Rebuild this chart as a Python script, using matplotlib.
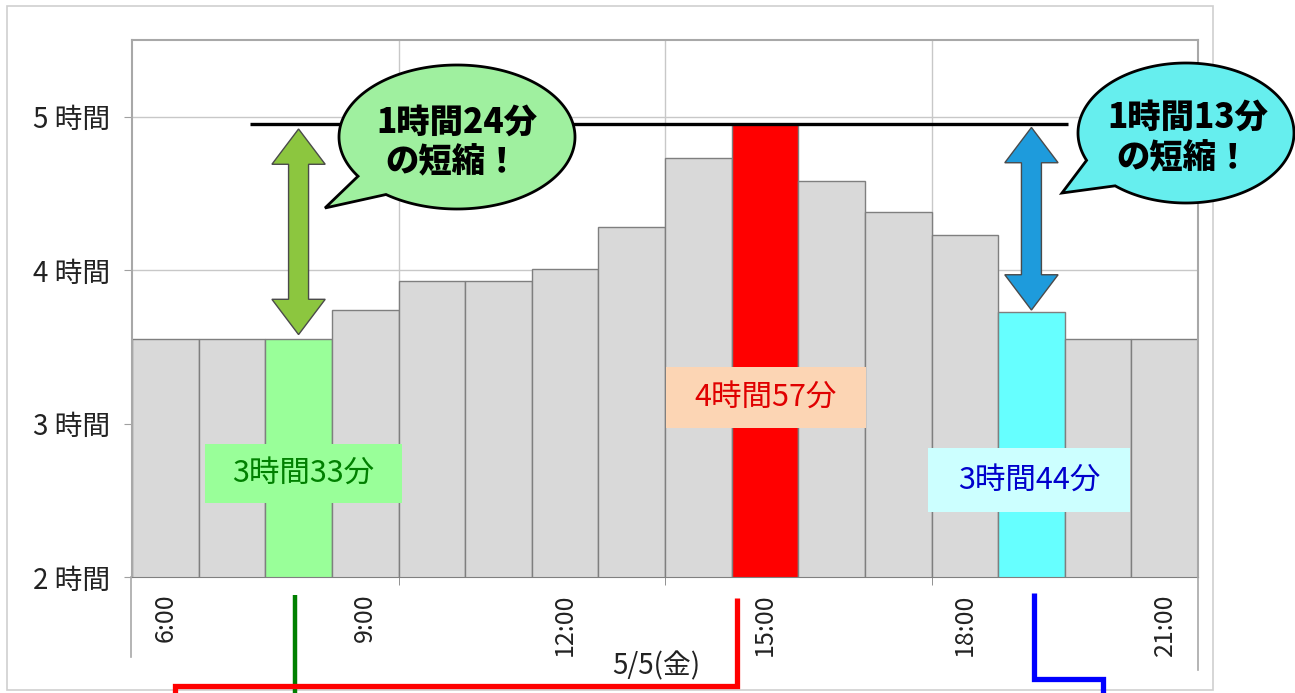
import matplotlib
matplotlib.use('Agg')
import matplotlib.pyplot as plt
import numpy as np
from matplotlib.patches import Polygon, Rectangle

plt.rcParams['font.family'] = ['Noto Sans CJK JP', 'DejaVu Sans']

# --- data ---
hours = ['6:00', '7:00', '8:00', '9:00', '10:00', '11:00', '12:00', '13:00',
         '14:00', '15:00', '16:00', '17:00', '18:00', '19:00', '20:00', '21:00']
values = [3.55, 3.55, 3.55, 3.74, 3.93, 3.93, 4.01, 4.28,
          4.73, 4.95, 4.58, 4.38, 4.23, 3.73, 3.55, 3.55]
shown_ticks = [0, 3, 6, 9, 12, 15]
y_ticks = [2, 3, 4, 5]
y_labels = ['2 時間', '3 時間', '4 時間', '5 時間']
date_label = '5/5(金)'
green_i, red_i, cyan_i = 2, 9, 13

GRAY = '#D9D9D9'
bar_colors = [GRAY] * len(values)
bar_colors[green_i] = '#99FF99'
bar_colors[red_i] = '#FF0000'
bar_colors[cyan_i] = '#66FFFF'

W, H = 1295, 693
fig = plt.figure(figsize=(W / 100, H / 100), dpi=100, facecolor='white')
ax = fig.add_axes([132 / W, 116 / H, 1066 / W, 537 / H])
x = np.arange(len(values))
ax.bar(x, values, width=1.0, color=bar_colors, edgecolor='#7F7F7F', linewidth=1, zorder=2)
ax.set_xlim(-0.5, len(values) - 0.5)
ax.set_ylim(2, 5.5)

ax.set_yticks(y_ticks)
ax.set_yticklabels(y_labels, fontsize=20, color='#222222')
ax.tick_params(axis='y', length=6, color='#A0A0A0', pad=10)
ax.set_xticks(shown_ticks)
ax.set_xticklabels([hours[i] for i in shown_ticks], rotation=90, fontsize=18, color='#222222')
ax.tick_params(axis='x', which='major', length=0, pad=12)
ax.set_xticks([3.5, 7.5, 11.5], minor=True)
ax.tick_params(axis='x', which='minor', length=6, color='#808080')
ax.grid(axis='y', which='major', color='#C8C8C8', lw=1, zorder=0)
ax.grid(axis='x', which='minor', color='#C8C8C8', lw=1, zorder=0)
for s in ['top', 'right', 'left']:
    ax.spines[s].set_color('#A8A8A8')
    ax.spines[s].set_linewidth(1.5)
ax.spines['bottom'].set_color('#808080')
ax.set_axisbelow(True)

# reference line at the peak
peak = values[red_i]
ax.hlines(peak, 1.27, 13.55, color='black', lw=2.4, zorder=4)


def dbl_arrow(xc, y_top, y_bot, fc, sw=0.15, hw=0.40, hl=0.23):
    pts = [(xc, y_top), (xc + hw, y_top - hl), (xc + sw, y_top - hl),
           (xc + sw, y_bot + hl), (xc + hw, y_bot + hl), (xc, y_bot),
           (xc - hw, y_bot + hl), (xc - sw, y_bot + hl), (xc - sw, y_top - hl),
           (xc - hw, y_top - hl)]
    ax.add_patch(Polygon(pts, closed=True, fc=fc, ec='#4A4A4A', lw=1, zorder=5))


dbl_arrow(green_i, peak - 0.03, values[green_i] + 0.03, '#8CC63F')
dbl_arrow(cyan_i, peak - 0.02, values[cyan_i] + 0.01, '#1E9BDC')

# --- overlay in pixel coordinates ---
ov = fig.add_axes([0, 0, 1, 1], facecolor='none')
ov.set_xlim(0, W)
ov.set_ylim(H, 0)
ov.axis('off')

# chart frame
ov.add_patch(Rectangle((7, 6), 1206, 684, fill=False, ec='#CFCFCF', lw=1.2))
ov.plot([131, 131], [577, 657], color='#A8A8A8', lw=1.2)
ov.plot([1198, 1198], [577, 670], color='#A8A8A8', lw=1.2)
ov.text(656, 666, date_label, ha='center', va='center', fontsize=20, color='#222222')


def bubble(cx, cy, a, b, tip, t1, t2, fc):
    ts = np.radians(np.linspace(t2, t1 + 360, 240))
    pts = [(cx + a * np.cos(t), cy + b * np.sin(t)) for t in ts]
    pts.append(tip)
    ov.add_patch(Polygon(pts, closed=True, fc=fc, ec='black', lw=2, joinstyle='miter', zorder=6))


bubble(457, 137, 118, 72, (325, 208), 127, 147, '#9FF09F')
ov.text(457, 122, '1時間24分', ha='center', va='center', fontsize=24,
        fontweight='heavy', zorder=7)
ov.text(452, 162, 'の短縮！', ha='center', va='center', fontsize=24,
        fontweight='heavy', zorder=7)

bubble(1186, 133, 108, 70, (1062, 193), 131, 157, '#66EEEE')
ov.text(1188, 117, '1時間13分', ha='center', va='center', fontsize=24,
        fontweight='heavy', zorder=7)
ov.text(1183, 158, 'の短縮！', ha='center', va='center', fontsize=24,
        fontweight='heavy', zorder=7)

# value labels
ov.add_patch(Rectangle((205, 444), 197, 59, fc='#99FF99', ec='none', zorder=6))
ov.text(303, 474, '3時間33分', ha='center', va='center', fontsize=22, color='#008000', zorder=7)
ov.add_patch(Rectangle((666, 367), 200, 61, fc='#FCD5B4', ec='none', zorder=6))
ov.text(766, 398, '4時間57分', ha='center', va='center', fontsize=22, color='#E00000', zorder=7)
ov.add_patch(Rectangle((928, 448), 202, 64, fc='#CCFFFF', ec='none', zorder=6))
ov.text(1029, 481, '3時間44分', ha='center', va='center', fontsize=22, color='#0000CC', zorder=7)

# connector lines leaving the chart
ov.plot([295, 295], [595, 693], color='#008000', lw=3.2, solid_capstyle='butt', zorder=8)
ov.plot([737, 737, 175, 175], [598, 686, 686, 693], color='#FF0000', lw=3.8,
        solid_joinstyle='miter', solid_capstyle='butt', zorder=8)
ov.plot([1034, 1034, 1103, 1103], [593, 679, 679, 693], color='#0000FF', lw=3.8,
        solid_joinstyle='miter', solid_capstyle='butt', zorder=8)

fig.savefig('out.png', dpi=100, facecolor='white')
